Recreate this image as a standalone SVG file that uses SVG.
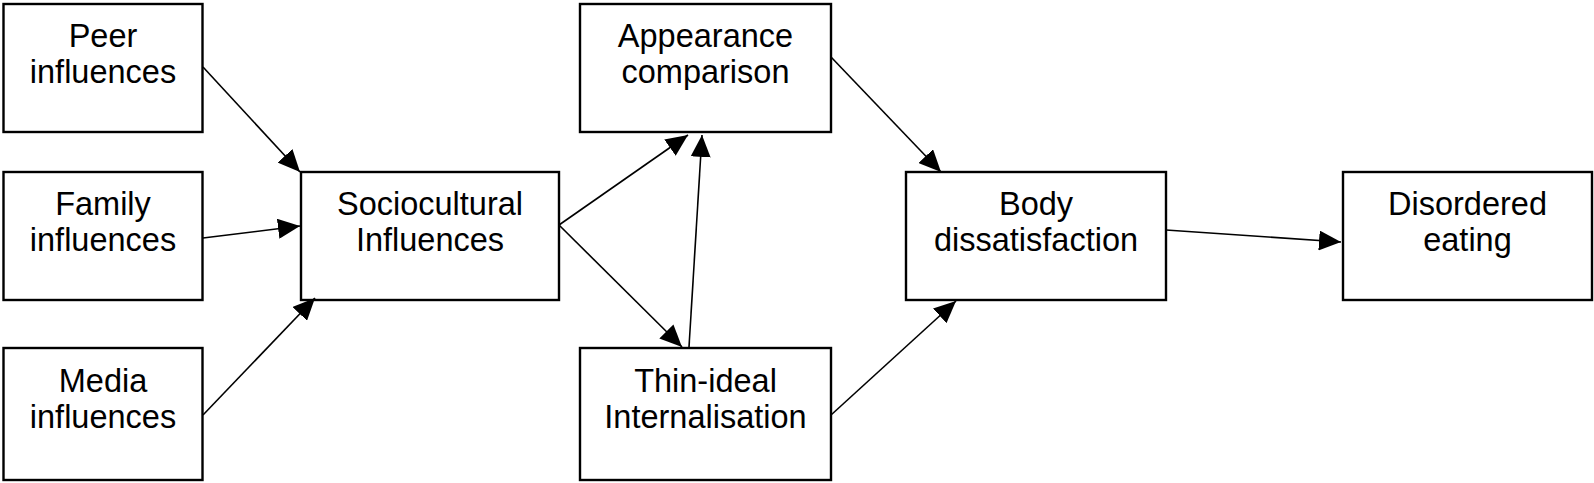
<svg xmlns="http://www.w3.org/2000/svg" width="1594" height="483" viewBox="0 0 1594 483">
<style>
.box{fill:#fff;stroke:#000;stroke-width:2.4}
.lbl{font-family:"Liberation Sans",Arial,sans-serif;font-size:32.5px;fill:#000;text-anchor:middle}
.edge{stroke:#000;stroke-width:1.6;fill:none;marker-end:url(#ah)}
</style>
<defs>
<marker id="ah" viewBox="0 0 22 20" refX="22" refY="10" markerWidth="22" markerHeight="20" markerUnits="userSpaceOnUse" orient="auto">
<path d="M0,0 L22,10 L0,20 z" fill="#000"/>
</marker>
</defs>
<rect width="1594" height="483" fill="#fff"/>
<g id="peer"><rect class="box" x="3.5" y="4" width="199" height="128"/><text class="lbl" x="103" y="47">Peer</text><text class="lbl" x="103" y="83">influences</text></g>
<g id="family"><rect class="box" x="3.5" y="172" width="199" height="128"/><text class="lbl" x="103" y="215">Family</text><text class="lbl" x="103" y="251">influences</text></g>
<g id="media"><rect class="box" x="3.5" y="348" width="199" height="132"/><text class="lbl" x="103" y="392">Media</text><text class="lbl" x="103" y="428">influences</text></g>
<g id="sociocultural"><rect class="box" x="301" y="172" width="258" height="128"/><text class="lbl" x="430" y="215">Sociocultural</text><text class="lbl" x="430" y="251">Influences</text></g>
<g id="appearance"><rect class="box" x="580" y="4" width="251" height="128"/><text class="lbl" x="705.5" y="47">Appearance</text><text class="lbl" x="705.5" y="83">comparison</text></g>
<g id="thin"><rect class="box" x="580" y="348" width="251" height="132"/><text class="lbl" x="705.5" y="392">Thin-ideal</text><text class="lbl" x="705.5" y="428">Internalisation</text></g>
<g id="body"><rect class="box" x="906" y="172" width="260" height="128"/><text class="lbl" x="1036" y="215">Body</text><text class="lbl" x="1036" y="251">dissatisfaction</text></g>
<g id="disordered"><rect class="box" x="1343" y="172" width="249" height="128"/><text class="lbl" x="1467.5" y="215">Disordered</text><text class="lbl" x="1467.5" y="251">eating</text></g>
<g id="connectors">
<line class="edge" x1="203" y1="67" x2="300" y2="172"/>
<line class="edge" x1="203" y1="238" x2="300" y2="226"/>
<line class="edge" x1="203" y1="415" x2="315" y2="298"/>
<line class="edge" x1="559" y1="225" x2="688" y2="135"/>
<line class="edge" x1="559" y1="225" x2="682" y2="347"/>
<line class="edge" x1="689" y1="347" x2="702" y2="135"/>
<line class="edge" x1="831" y1="57" x2="941" y2="172"/>
<line class="edge" x1="831" y1="415" x2="956" y2="301"/>
<line class="edge" x1="1166" y1="230" x2="1341" y2="242"/>
</g>
</svg>
